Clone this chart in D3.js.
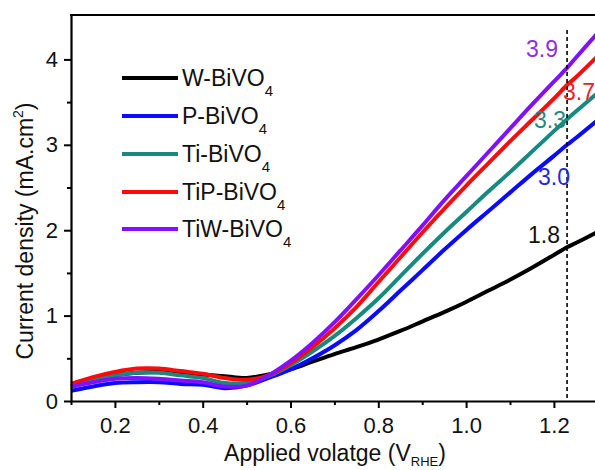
<!DOCTYPE html>
<html>
<head>
<meta charset="utf-8">
<script src="https://cdn.jsdelivr.net/npm/d3@7"></script>
<style>
  html, body { margin: 0; padding: 0; background: #fff; }
  svg { display: block; }
  text { font-family: "Liberation Sans", Arial, sans-serif; }
</style>
</head>
<body>
<div id="chart"></div>
<script>
// Applied potential (V vs RHE)
const volts = [0.10, 0.15, 0.20, 0.25, 0.30, 0.35, 0.40, 0.45, 0.50, 0.55, 0.60, 0.65, 0.70,
               0.75, 0.80, 0.85, 0.90, 0.95, 1.00, 1.05, 1.10, 1.15, 1.20, 1.23, 1.25, 1.30];

// Photocurrent density (mA/cm^2) for each sample
const wBiVO4   = [0.17, 0.24, 0.30, 0.33, 0.34, 0.32, 0.31, 0.29, 0.27, 0.31, 0.37, 0.46, 0.55,
                  0.63, 0.72, 0.82, 0.93, 1.04, 1.16, 1.29, 1.42, 1.56, 1.71, 1.80, 1.85, 1.98];
const pBiVO4   = [0.12, 0.17, 0.21, 0.22, 0.22, 0.20, 0.19, 0.15, 0.18, 0.27, 0.37, 0.50, 0.65,
                  0.83, 1.05, 1.29, 1.53, 1.77, 2.00, 2.22, 2.44, 2.66, 2.87, 3.00, 3.08, 3.29];
const tiBiVO4  = [0.16, 0.24, 0.30, 0.33, 0.33, 0.30, 0.27, 0.21, 0.21, 0.29, 0.42, 0.58, 0.76,
                  0.97, 1.20, 1.46, 1.72, 1.97, 2.21, 2.45, 2.68, 2.92, 3.16, 3.30, 3.39, 3.61];
const tipBiVO4 = [0.20, 0.28, 0.34, 0.38, 0.38, 0.35, 0.32, 0.27, 0.25, 0.30, 0.44, 0.63, 0.85,
                  1.10, 1.39, 1.68, 1.97, 2.25, 2.52, 2.78, 3.04, 3.29, 3.54, 3.70, 3.79, 4.04];
const tiwBiVO4 = [0.17, 0.22, 0.26, 0.27, 0.26, 0.24, 0.22, 0.17, 0.18, 0.30, 0.47, 0.68, 0.92,
                  1.19, 1.47, 1.76, 2.05, 2.35, 2.63, 2.91, 3.19, 3.47, 3.74, 3.90, 4.02, 4.31];

const seriesNames  = ["W-BiVO", "P-BiVO", "Ti-BiVO", "TiP-BiVO", "TiW-BiVO"];
const seriesValues = [wBiVO4, pBiVO4, tiBiVO4, tipBiVO4, tiwBiVO4];
const seriesColors = ["#000000", "#0a0aff", "#178a80", "#ff0a0a", "#8010ff"];
const labelColors  = ["#111111", "#2626d6", "#1d8a82", "#f02020", "#8a30e8"];

// Current read-out at 1.23 V vs RHE
const refVolt = 1.23;
const refLabels = ["1.8", "3.0", "3.3", "3.7", "3.9"];

const xTicks = [0.2, 0.4, 0.6, 0.8, 1.0, 1.2];
const xMinor = [0.1, 0.3, 0.5, 0.7, 0.9, 1.1];
const yTicks = [0, 1, 2, 3, 4];
const yMinor = [0.5, 1.5, 2.5, 3.5];

const W = 595, H = 470;
const plotLeft = 71, plotTop = 15, plotBottom = 401;

const svg = d3.select("#chart").append("svg")
  .attr("width", W).attr("height", H);

const x = d3.scaleLinear().domain([0.1, 1.3]).range([plotLeft, plotLeft + 439 * 1.2]);
const y = d3.scaleLinear().domain([0, 4.52]).range([plotBottom, plotTop]);

// Curves
const line = d3.line()
  .x((d, i) => x(volts[i]))
  .y(d => y(d))
  .curve(d3.curveCatmullRom.alpha(0.5));

const curves = svg.append("g");
seriesValues.forEach((vals, k) => {
  curves.append("path")
    .attr("d", line(vals))
    .attr("fill", "none")
    .attr("stroke", seriesColors[k])
    .attr("stroke-width", 4)
    .attr("stroke-linejoin", "round");
});

// Reference potential marker
svg.append("line")
  .attr("x1", x(refVolt)).attr("x2", x(refVolt))
  .attr("y1", 30).attr("y2", plotBottom)
  .attr("stroke", "#000").attr("stroke-width", 1.6)
  .attr("stroke-dasharray", "4,3");

// Value labels at 1.23 V
const labelPos = [
  { dx: -39, dy: -4 },   // W
  { dx: -29, dy: 40 },   // P
  { dx: -33, dy: 9 },    // Ti
  { dx: -4,  dy: 15 },   // TiP
  { dx: -41, dy: -11 }   // TiW
];
seriesValues.forEach((vals, k) => {
  const i = volts.indexOf(refVolt);
  svg.append("text")
    .attr("x", x(refVolt) + labelPos[k].dx)
    .attr("y", y(vals[i]) + labelPos[k].dy)
    .attr("font-size", 23)
    .attr("fill", labelColors[k])
    .text(refLabels[k]);
});

// Axes
const xAxis = svg.append("g").attr("transform", `translate(0,${plotBottom})`)
  .call(d3.axisBottom(x).tickValues(xTicks).tickFormat(d3.format(".1f"))
    .tickSize(7).tickSizeOuter(0).tickPadding(9));
xAxis.append("g").call(d3.axisBottom(x).tickValues(xMinor).tickFormat("").tickSize(4).tickSizeOuter(0))
  .select(".domain").remove();

const yAxis = svg.append("g").attr("transform", `translate(${plotLeft},0)`)
  .call(d3.axisLeft(y).tickValues(yTicks).tickFormat(d3.format("d"))
    .tickSize(7).tickSizeOuter(0).tickPadding(6));
yAxis.append("g").call(d3.axisLeft(y).tickValues(yMinor).tickFormat("").tickSize(4).tickSizeOuter(0))
  .select(".domain").remove();

[xAxis, yAxis].forEach(g => {
  g.selectAll(".domain").attr("stroke", "#000").attr("stroke-width", 2.2);
  g.selectAll(".tick line").attr("stroke", "#000").attr("stroke-width", 2);
  g.selectAll(".tick text").attr("font-size", 22).attr("fill", "#111")
    .attr("font-family", "Liberation Sans, Arial, sans-serif");
});

// Top frame
svg.append("line")
  .attr("x1", plotLeft - 1).attr("x2", W).attr("y1", plotTop).attr("y2", plotTop)
  .attr("stroke", "#000").attr("stroke-width", 2.2);

// Axis titles
const xt = svg.append("text")
  .attr("x", 335).attr("y", 461)
  .attr("text-anchor", "middle").attr("font-size", 23).attr("fill", "#111");
xt.append("tspan").text("Applied volatge (V");
xt.append("tspan").attr("font-size", 13).attr("dy", 5).text("RHE");
xt.append("tspan").attr("dy", -5).text(")");

const yt = svg.append("text")
  .attr("transform", "translate(33,231) rotate(-90)")
  .attr("text-anchor", "middle").attr("font-size", 23).attr("fill", "#111");
yt.append("tspan").text("Current density (mA.cm");
yt.append("tspan").attr("font-size", 14).attr("dy", -10).text("2");
yt.append("tspan").attr("dy", 10).text(")");

// Legend
const legendRows = [78, 116, 154, 192, 229];
seriesNames.forEach((name, k) => {
  const ly = legendRows[k];
  svg.append("line")
    .attr("x1", 122).attr("x2", 178).attr("y1", ly).attr("y2", ly)
    .attr("stroke", seriesColors[k]).attr("stroke-width", 4);
  const t = svg.append("text")
    .attr("x", 182).attr("y", ly + 8)
    .attr("font-size", 23).attr("fill", "#111");
  t.append("tspan").text(name);
  t.append("tspan").attr("font-size", 15).attr("dy", 10).text("4");
});
</script>
</body>
</html>
